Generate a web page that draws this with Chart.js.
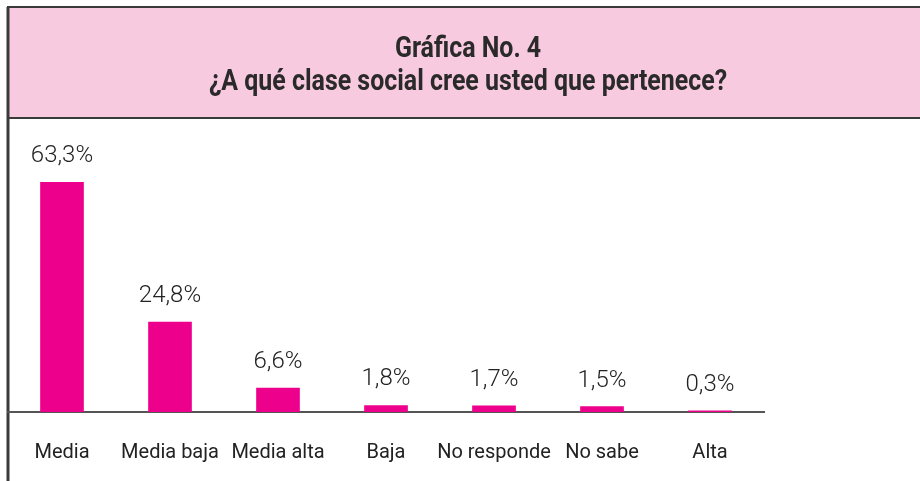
<!DOCTYPE html>
<html>
<head>
<meta charset="utf-8">
<script src="https://cdn.jsdelivr.net/npm/chart.js@4"></script>
<style>
html,body{margin:0;padding:0;background:#fff;}
#wrap{position:relative;width:920px;height:481px;}
</style>
</head>
<body>
<div id="wrap"><canvas id="c" width="920" height="481"></canvas></div>
<script>
const categories = ["Media", "Media baja", "Media alta", "Baja", "No responde", "No sabe", "Alta"];
const values = [63.3, 24.8, 6.6, 1.8, 1.7, 1.5, 0.3];
const valueLabels = ["63,3%", "24,8%", "6,6%", "1,8%", "1,7%", "1,5%", "0,3%"];
const titleLines = ["Gráfica No. 4", "¿A qué clase social cree usted que pertenece?"];

const FONT = "'Roboto', 'DejaVu Sans Condensed', sans-serif";

const framePlugin = {
  id: 'frame',
  beforeDraw(chart) {
    const ctx = chart.ctx;
    ctx.save();
    ctx.fillStyle = '#F8CADF';
    ctx.fillRect(8, 7, 920, 111);
    ctx.strokeStyle = '#3a3a3a';
    ctx.lineWidth = 2;
    ctx.strokeRect(8, 7, 930, 111);
    ctx.beginPath();
    ctx.lineWidth = 3;
    ctx.moveTo(8, 7);
    ctx.lineTo(8, 481);
    ctx.stroke();
    // title text (condensed by horizontal scaling)
    ctx.fillStyle = '#2a2a2a';
    ctx.textAlign = 'center';
    ctx.textBaseline = 'alphabetic';
    ctx.font = "bold 29px 'Roboto', 'DejaVu Sans', sans-serif";
    ctx.translate(468, 0);
    ctx.scale(0.86, 1);
    ctx.fillText(titleLines[0], 0, 57);
    ctx.fillText(titleLines[1], 0, 90);
    ctx.restore();
  }
};

const valueLabelPlugin = {
  id: 'valueLabels',
  afterDatasetsDraw(chart) {
    const ctx = chart.ctx;
    const meta = chart.getDatasetMeta(0);
    ctx.save();
    ctx.font = "300 24px " + FONT;
    ctx.fillStyle = '#222';
    ctx.textAlign = 'center';
    ctx.textBaseline = 'alphabetic';
    meta.data.forEach((bar, i) => {
      ctx.fillText(valueLabels[i], bar.x, bar.y - 20);
    });
    ctx.restore();
  }
};

new Chart(document.getElementById('c'), {
  type: 'bar',
  data: {
    labels: categories,
    datasets: [{
      data: values,
      backgroundColor: '#EC008C',
      borderWidth: 0,
      barThickness: 43
    }]
  },
  options: {
    responsive: false,
    animation: false,
    layout: { padding: { left: 8, right: 156, top: 158, bottom: -13 } },
    plugins: {
      legend: { display: false },
      tooltip: { enabled: false },
      title: { display: false }
    },
    scales: {
      x: {
        offset: true,
        grid: { display: false, drawTicks: false },
        border: { display: true, color: '#555', width: 2 },
        ticks: { color: '#222', font: { family: FONT, size: 20, weight: '400' }, padding: 29, maxRotation: 0, autoSkip: false }
      },
      y: {
        display: false,
        min: 0,
        max: 70
      }
    }
  },
  plugins: [framePlugin, valueLabelPlugin]
});
</script>
</body>
</html>
